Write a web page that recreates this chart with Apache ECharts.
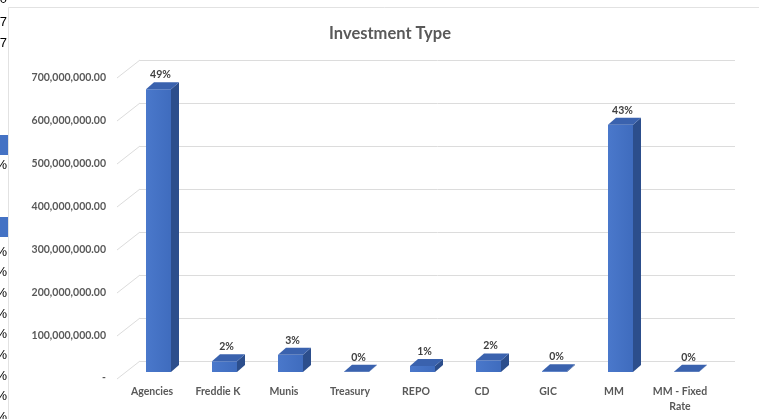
<!DOCTYPE html>
<html>
<head>
<meta charset="utf-8">
<script src="https://cdn.jsdelivr.net/npm/echarts@6/dist/echarts.min.js"></script>
<style>
html,body{margin:0;padding:0;background:#fff;}
#chart{width:759px;height:419px;}
</style>
</head>
<body>
<div id="chart"></div>
<script>
const categories = ['Agencies', 'Freddie K', 'Munis', 'Treasury', 'REPO', 'CD', 'GIC', 'MM', 'MM - Fixed\nRate'];
const values = [660000000, 25000000, 40000000, 800000, 14000000, 27000000, 1800000, 577000000, 800000];
const yTicks = [0, 100000000, 200000000, 300000000, 400000000, 500000000, 600000000, 700000000];
const titleText = 'Investment Type';

const total = values.reduce((a, b) => a + b, 0);
const pctLabels = values.map(v => Math.round(v / total * 100) + '%');
const yMax = yTicks[yTicks.length - 1];
const yStep = yTicks[1] - yTicks[0];

const FONT = 'Lato, "Open Sans", sans-serif';
const GRID_COLOR = '#DCDCDC';

function fmtY(v) {
  if (v === 0) return '-';
  return v.toLocaleString('en-US', {minimumFractionDigits: 2, maximumFractionDigits: 2});
}

const DX = 8, DY = -7, W = 25, SHIFT = 6.5;

function renderBar(params, api) {
  const i = api.value(0), v = api.value(1);
  const base = api.coord([i, 0]);
  const top = api.coord([i, v]);
  const cx = base[0] + SHIFT;
  const x0 = cx - W / 2, x1 = cx + W / 2;
  const yb = base[1], yt = top[1];
  return {
    type: 'group',
    children: [
      {type: 'polygon', shape: {points: [[x1, yt], [x1 + DX, yt + DY], [x1 + DX, yb + DY], [x1, yb]]},
       style: {fill: '#2C4E8C'}},
      {type: 'rect', shape: {x: x0, y: yt, width: W, height: Math.max(yb - yt, 0)},
       style: {fill: new echarts.graphic.LinearGradient(0, 0, 1, 0, [
         {offset: 0, color: '#4A78CB'}, {offset: 1, color: '#3F6CBE'}])}},
      {type: 'polygon', shape: {points: [[x0, yt], [x0 + DX, yt + DY], [x1 + DX, yt + DY], [x1, yt]]},
       style: {fill: '#3A62AE'}},
      {type: 'text', style: {x: cx + 2, y: yt + DY - 2, text: pctLabels[params.dataIndex],
        align: 'center', verticalAlign: 'bottom', fill: '#404040',
        font: 'bold 10.5px ' + FONT}}
    ]
  };
}

function renderDiag(params, api) {
  const v = api.value(0);
  const p = api.coord([0, v]);
  return {
    type: 'line',
    shape: {x1: p[0] - 23, y1: p[1] + 18, x2: p[0], y2: p[1]},
    style: {stroke: GRID_COLOR, lineWidth: 1}
  };
}

const chart = echarts.init(document.getElementById('chart'), null, {renderer: 'canvas'});

const ART_FONT = '13px "Liberation Sans", sans-serif';
const leftArtifacts = [];
[['0', -1], ['7', 22], ['7', 43]].forEach(t => {
  leftArtifacts.push({type: 'text', style: {x: 7, y: t[1], text: t[0], align: 'right', verticalAlign: 'middle', font: ART_FONT, fill: '#000'}});
});
leftArtifacts.push({type: 'rect', shape: {x: 0, y: 135, width: 8, height: 20}, style: {fill: '#4472C4'}});
leftArtifacts.push({type: 'rect', shape: {x: 0, y: 217, width: 8, height: 20}, style: {fill: '#4472C4'}});
leftArtifacts.push({type: 'text', style: {x: 7, y: 165, text: '%', align: 'right', verticalAlign: 'middle', font: ART_FONT, fill: '#000'}});
for (let k = 0; k < 9; k++) {
  leftArtifacts.push({type: 'text', style: {x: 7, y: 252 + 20.7 * k, text: '%', align: 'right', verticalAlign: 'middle', font: ART_FONT, fill: '#000'}});
}

const option = {
  backgroundColor: '#ffffff',
  animation: false,
  title: {
    text: titleText, left: 385, top: 20, textAlign: 'center',
    textStyle: {fontFamily: FONT, fontSize: 16.5, fontWeight: 'bold', color: '#595959'}
  },
  graphic: [
    {type: 'rect', shape: {x: 8.5, y: 7.5, width: 800, height: 450}, style: {fill: 'none', stroke: '#E2E2E2', lineWidth: 1}, z: 0},
    ...leftArtifacts
  ],
  grid: [
    {left: 140, right: 24, top: 60, bottom: 58},
    {left: 119, right: 46, top: 78, bottom: 41},
    {left: 119, right: 46, top: 72, bottom: 47}
  ],
  xAxis: [
    {gridIndex: 0, type: 'value', min: 0, max: 1, show: false},
    {gridIndex: 1, type: 'category', data: categories,
     axisLine: {show: false}, axisTick: {show: false}, splitLine: {show: false},
     axisLabel: {margin: 6.5, interval: 0, fontFamily: FONT, fontSize: 10.5, fontWeight: 'bold', color: '#595959', lineHeight: 15}},
    {gridIndex: 2, type: 'category', data: categories, show: false}
  ],
  yAxis: [
    {gridIndex: 0, type: 'value', min: 0, max: yMax, interval: yStep,
     axisLabel: {show: false}, axisLine: {show: false}, axisTick: {show: false},
     splitLine: {show: true, lineStyle: {color: GRID_COLOR, width: 1}}},
    {gridIndex: 1, type: 'value', min: 0, max: yMax, interval: yStep,
     axisLine: {show: false}, axisTick: {show: false}, splitLine: {show: false},
     axisLabel: {margin: 13, formatter: fmtY, fontFamily: FONT, fontSize: 10.5, fontWeight: 'bold', color: '#595959'}},
    {gridIndex: 2, type: 'value', min: 0, max: yMax, interval: yStep, show: false}
  ],
  series: [
    {type: 'custom', xAxisIndex: 0, yAxisIndex: 0, renderItem: renderDiag,
     data: yTicks.map(v => [v]), silent: true, z: 1},
    {type: 'custom', xAxisIndex: 2, yAxisIndex: 2, renderItem: renderBar,
     data: values.map((v, i) => [i, v]), z: 5}
  ]
};
chart.setOption(option);
</script>
</body>
</html>
